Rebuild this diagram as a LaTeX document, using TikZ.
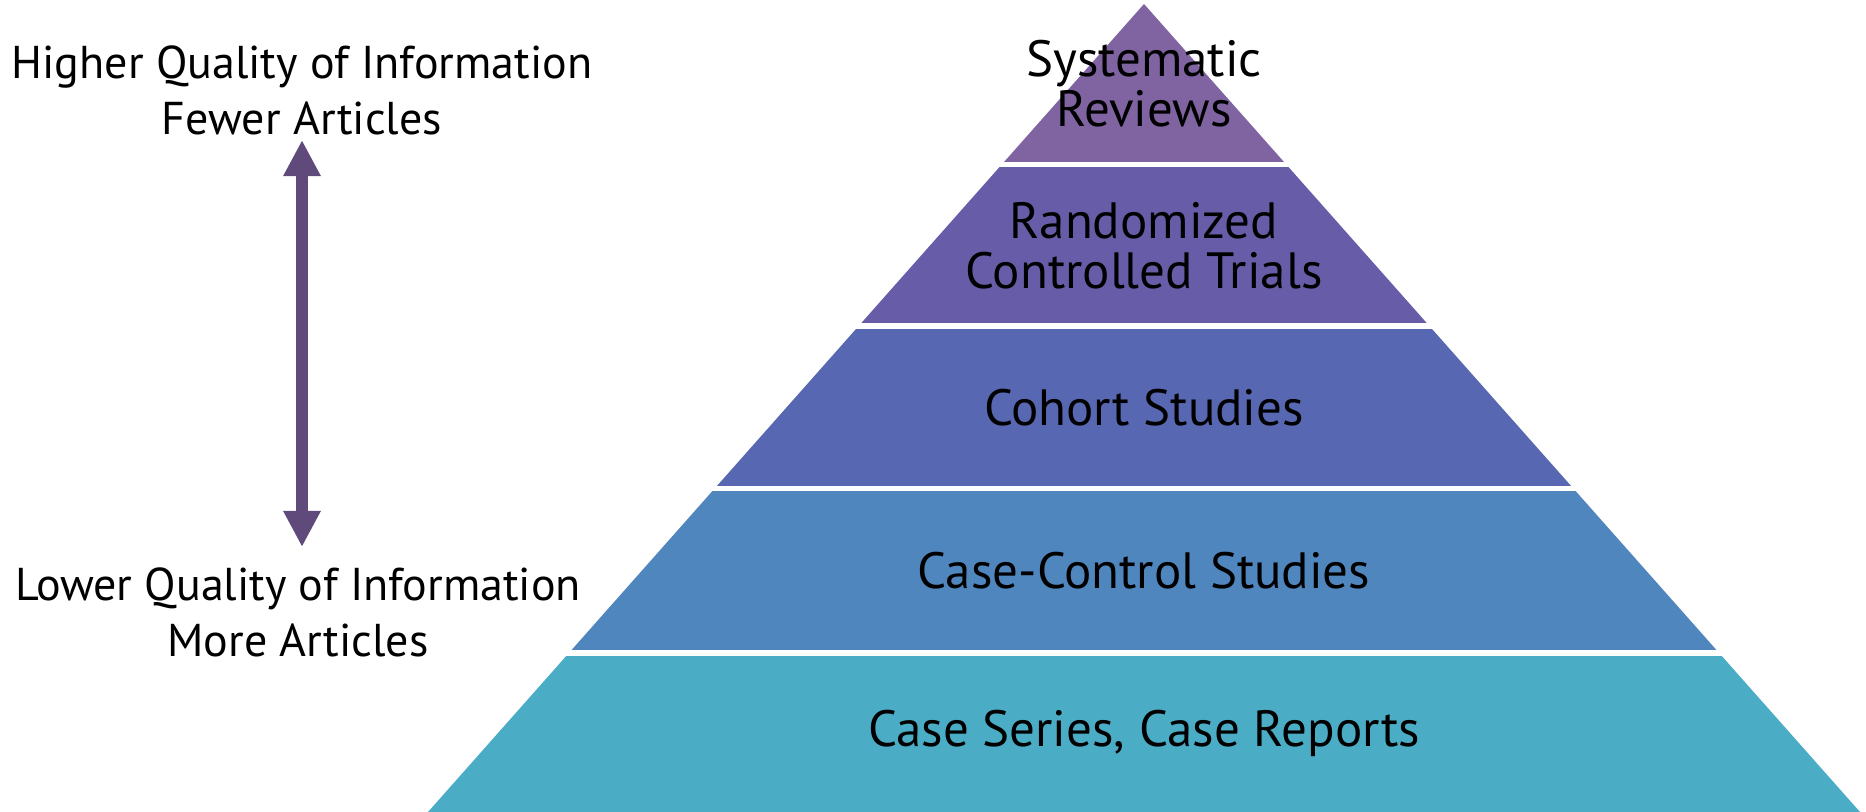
\documentclass[tikz,border=0pt]{standalone}
\usepackage{fontspec}
\setmainfont{PT Sans}
\usetikzlibrary{arrows.meta}

\definecolor{srcol}{HTML}{8064A2}
\definecolor{rctcol}{HTML}{675CA8}
\definecolor{cohcol}{HTML}{5867B2}
\definecolor{cccol}{HTML}{5086BE}
\definecolor{cscol}{HTML}{4BACC6}
\definecolor{arrcol}{HTML}{604A7B}

\begin{document}
\begin{tikzpicture}[x=0.5pt, y=-0.5pt,
			level/.style={inner sep=0pt, align=center, text=black, font=\fontsize{25.5}{25}\selectfont},
			side/.style={inner sep=0pt, align=center, text=black, font=\fontsize{23}{28}\selectfont},
			updown/.style={{Triangle[width=17.5pt,length=18pt]}-{Triangle[width=17.5pt,length=18pt]}, line width=6pt, draw=arrcol}
		]
		\useasboundingbox (0,0) rectangle (1866,812);

		% Pyramid bands, cut by the triangle
		\begin{scope}
			\clip (1144,4) -- (1860,812) -- (428,812) -- cycle;
			\fill[srcol] (400,0) rectangle (1866,162);
			\fill[rctcol] (400,167) rectangle (1866,323);
			\fill[cohcol] (400,329) rectangle (1866,486);
			\fill[cccol] (400,491) rectangle (1866,650);
			\fill[cscol] (400,656) rectangle (1866,812);
		\end{scope}

		% Levels of evidence
		\node[level] (sr) at (1144,84) {Systematic\\Reviews};
		\node[level] (rct) at (1144,246) {Randomized\\Controlled Trials};
		\node[level] (coh) at (1144,408) {Cohort Studies};
		\node[level] (cc) at (1144,571) {Case-Control Studies};
		\node[level] (cs) at (1144,733) {Case Series, Case Reports};

		% Side labels
		\node[side] (hi) at (302,90) {Higher Quality of Information\\Fewer Articles};
		\node[side] (lo) at (298,612) {Lower Quality of Information\\More Articles};

		% Quality arrow
		\draw[updown, shorten <=2.5pt, shorten >=10pt] (hi.south) -- (hi.south |- lo.north);

	\end{tikzpicture}
\end{document}
